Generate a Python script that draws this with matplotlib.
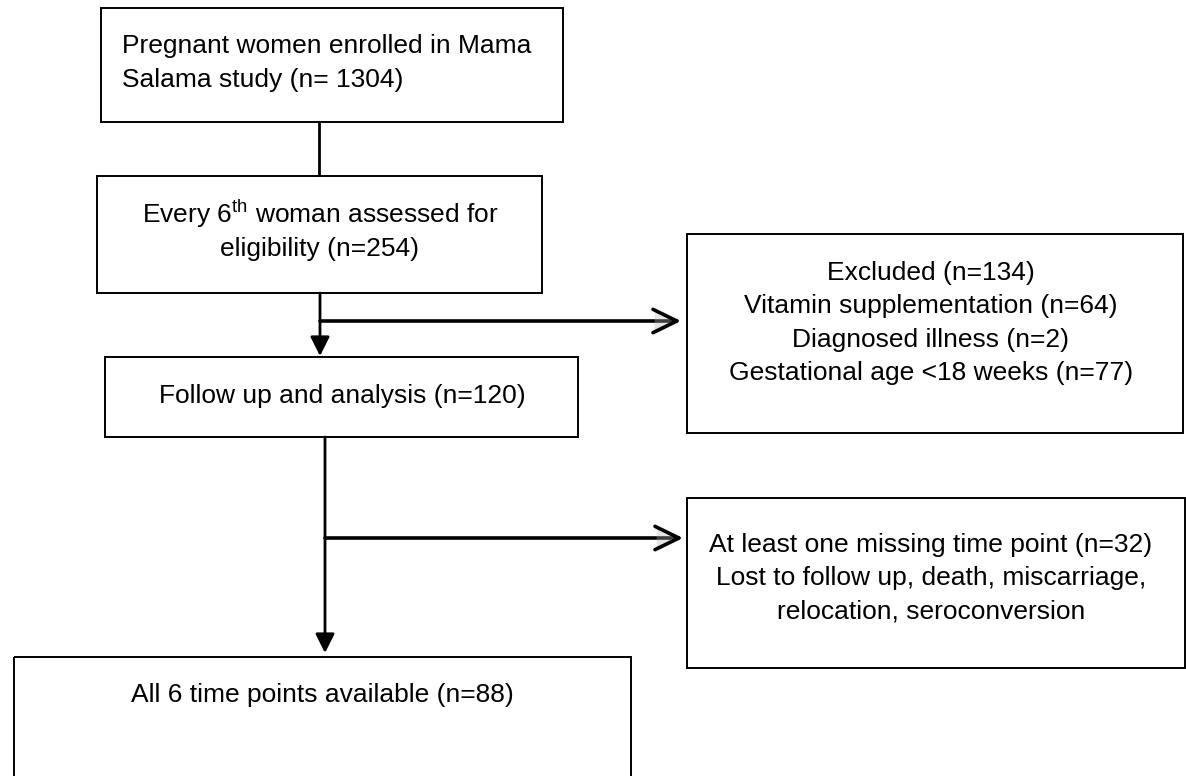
import matplotlib
matplotlib.use("Agg")
import matplotlib.pyplot as plt
from matplotlib.patches import Rectangle
import matplotlib.patheffects as pe

plt.rcParams['font.family'] = ['Liberation Sans', 'DejaVu Sans']
plt.rcParams['mathtext.fontset'] = 'custom'
plt.rcParams['mathtext.rm'] = 'Liberation Sans'

# ---- content ----
box_enrolled = ["Pregnant women enrolled in Mama", "Salama study (n= 1304)"]
box_assessed = ["Every 6$^{\\mathrm{th}}$ woman assessed for", "eligibility (n=254)"]
box_followup = ["Follow up and analysis (n=120)"]
box_excluded = ["Excluded (n=134)", "Vitamin supplementation (n=64)",
                "Diagnosed illness (n=2)", "Gestational age <18 weeks (n=77)"]
box_missing = ["At least one missing time point (n=32)",
               "Lost to follow up, death, miscarriage,",
               "relocation, seroconversion"]
box_final = ["All 6 time points available (n=88)"]

W, H = 1186, 776
fig = plt.figure(figsize=(W / 100, H / 100), dpi=100)
ax = fig.add_axes([0, 0, 1, 1])
ax.set_xlim(0, W)
ax.set_ylim(H, 0)
ax.axis('off')

FS = 19.0
BLW = 1.4

def box(x0, y0, x1, y1):
    ax.add_patch(Rectangle((x0, y0), x1 - x0, y1 - y0, fill=False,
                           edgecolor='black', lw=BLW, zorder=2))

def lines(texts, x, ys, ha='center'):
    for t, y in zip(texts, ys):
        ax.text(x, y, t, ha=ha, va='baseline', fontsize=FS, color='black')

# boxes
box(101, 8, 563, 122)
lines(box_enrolled, 122, [53, 87], ha='left')

box(97, 176, 542, 293)
lines(box_assessed, 320, [223, 256])

box(105, 357, 578, 437)
lines(box_followup, 342, [403])

box(687, 234, 1183, 433)
lines(box_excluded, 931, [280, 313, 347, 380])

box(687, 498, 1185, 668)
lines(box_missing, 931, [552, 585, 618])

box(14, 657, 631, 800)
lines(box_final, 322, [702])

shadow = [pe.SimplePatchShadow(offset=(1.2, -1.2), shadow_rgbFace='0.7', alpha=0.35), pe.Normal()]

# connectors
ax.plot([319, 319], [122, 176], color='black', lw=2.0, solid_capstyle='butt')

def down_arrow(x, y0, y1):
    ax.annotate("", xy=(x, y1), xytext=(x, y0),
                arrowprops=dict(arrowstyle='-|>,head_length=0.58,head_width=0.29',
                                mutation_scale=20, lw=2.0, color='black',
                                shrinkA=0, shrinkB=0))

def side_arrow(x0, x1, y):
    a = ax.annotate("", xy=(x1, y), xytext=(x0, y),
                    arrowprops=dict(arrowstyle='->,head_length=0.86,head_width=0.42',
                                    mutation_scale=20, lw=2.6, color='black',
                                    shrinkA=0, shrinkB=0))
    a.arrow_patch.set_path_effects(shadow)

down_arrow(320, 293, 356)
side_arrow(320, 681, 321)
down_arrow(325, 437, 653)
side_arrow(325, 683, 538)

fig.savefig("out.png", dpi=100, facecolor='white')
